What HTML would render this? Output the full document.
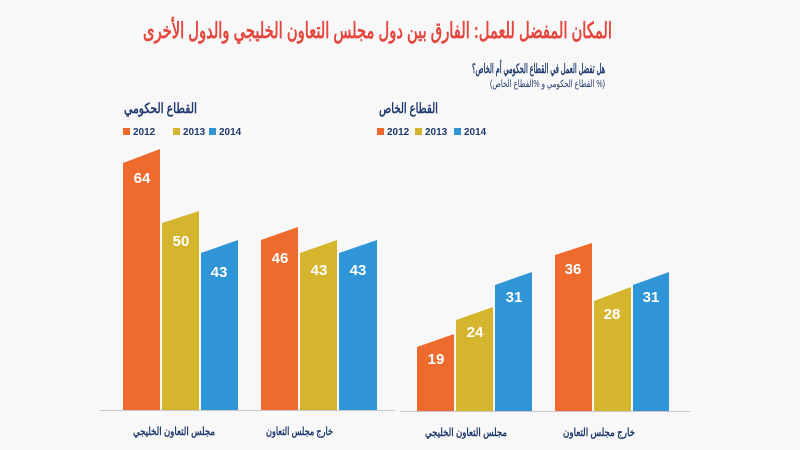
<!DOCTYPE html>
<html><head><meta charset="utf-8"><style>
html,body{margin:0;padding:0;background:#f8f8f9;}
svg{display:block}
text{font-family:"Liberation Sans","Noto Sans CJK SC",sans-serif;}
</style></head><body>
<svg width="800" height="450" viewBox="0 0 800 450" xmlns="http://www.w3.org/2000/svg">
<rect width="800" height="450" fill="#f8f8f9"/>
<text x="612" y="38" text-anchor="start" font-size="22" font-weight="bold" fill="#e5463d" direction="rtl" textLength="469" lengthAdjust="spacingAndGlyphs">المكان المفضل للعمل: الفارق بين دول مجلس التعاون الخليجي والدول الأخرى</text>
<text x="605" y="73" text-anchor="start" font-size="13" font-weight="bold" fill="#1f3a6e" direction="rtl" textLength="133" lengthAdjust="spacingAndGlyphs">هل تفضل العمل في القطاع الحكومي أم الخاص؟</text>
<text x="605" y="87" text-anchor="start" font-size="10" fill="#1f3a6e" direction="rtl" textLength="115" lengthAdjust="spacingAndGlyphs">(% القطاع الحكومي و %القطاع الخاص)</text>
<text x="197" y="113" text-anchor="start" font-size="14" font-weight="bold" fill="#1f3a6e" direction="rtl" textLength="73" lengthAdjust="spacingAndGlyphs">القطاع الحكومي</text>
<text x="438" y="113" text-anchor="start" font-size="14" font-weight="bold" fill="#1f3a6e" direction="rtl" textLength="59" lengthAdjust="spacingAndGlyphs">القطاع الخاص</text>
<g font-size="10" font-weight="bold" fill="#1f3a6e">
<rect x="123" y="128" width="7" height="7" fill="#ef6a2d"/><text x="133" y="135">2012</text>
<rect x="173" y="128" width="7" height="7" fill="#d6b52e"/><text x="183" y="135">2013</text>
<rect x="209" y="128" width="7" height="7" fill="#2f95d6"/><text x="219" y="135">2014</text>
<rect x="377" y="128" width="7" height="7" fill="#ef6a2d"/><text x="387" y="135">2012</text>
<rect x="415" y="128" width="7" height="7" fill="#d6b52e"/><text x="425" y="135">2013</text>
<rect x="454" y="128" width="7" height="7" fill="#2f95d6"/><text x="464" y="135">2014</text>
</g>
<line x1="100" y1="410.5" x2="395" y2="410.5" stroke="#c8c8cc" stroke-width="1"/>
<line x1="400" y1="411.5" x2="690" y2="411.5" stroke="#c8c8cc" stroke-width="1"/>
<g>
<polygon points="123,410 123,163 160,149 160,410" fill="#ef6a2d"/>
<polygon points="162,410 162,223 199,211 199,410" fill="#d6b52e"/>
<polygon points="201,410 201,253 238,240 238,410" fill="#2f95d6"/>
<polygon points="261,410 261,240 298,227 298,410" fill="#ef6a2d"/>
<polygon points="300,410 300,253 337,240 337,410" fill="#d6b52e"/>
<polygon points="339,410 339,253 377,240 377,410" fill="#2f95d6"/>
<polygon points="417,411 417,347 454,334 454,411" fill="#ef6a2d"/>
<polygon points="456,411 456,320 493,307 493,411" fill="#d6b52e"/>
<polygon points="495,411 495,285 532,272 532,411" fill="#2f95d6"/>
<polygon points="555,411 555,255 592,243 592,411" fill="#ef6a2d"/>
<polygon points="594,411 594,301 631,287 631,411" fill="#d6b52e"/>
<polygon points="633,411 633,285 669,272 669,411" fill="#2f95d6"/>
</g>
<g font-size="15" font-weight="bold" fill="#ffffff" text-anchor="middle">
<text x="142" y="183">64</text>
<text x="181" y="246">50</text>
<text x="219" y="277">43</text>
<text x="280" y="263">46</text>
<text x="319" y="275">43</text>
<text x="358" y="275">43</text>
<text x="436" y="364">19</text>
<text x="475" y="337">24</text>
<text x="514" y="302">31</text>
<text x="573" y="274">36</text>
<text x="612" y="319">28</text>
<text x="651" y="302">31</text>
</g>
<g font-size="11" font-weight="bold" fill="#1f3a6e" text-anchor="start" direction="rtl">
<text x="215" y="435" textLength="82" lengthAdjust="spacingAndGlyphs">مجلس التعاون الخليجي</text>
<text x="333" y="435" textLength="67" lengthAdjust="spacingAndGlyphs">خارج مجلس التعاون</text>
<text x="507" y="436" textLength="82" lengthAdjust="spacingAndGlyphs">مجلس التعاون الخليجي</text>
<text x="635" y="436" textLength="72" lengthAdjust="spacingAndGlyphs">خارج مجلس التعاون</text>
</g>
</svg>
</body></html>
